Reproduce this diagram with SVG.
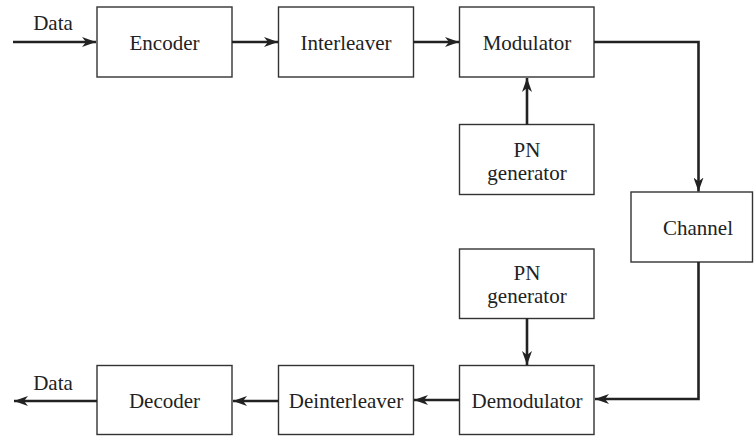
<svg xmlns="http://www.w3.org/2000/svg" width="754" height="436" viewBox="0 0 754 436">
<defs>
<marker id="ah" viewBox="0 0 14 10" refX="14" refY="5" markerWidth="14" markerHeight="10" markerUnits="userSpaceOnUse" orient="auto">
<path d="M0,0 L14,5 L0,10 L4,5 Z" fill="#222"/>
</marker>
</defs>
<style>
.box{fill:#fff;stroke:#333;stroke-width:1.4}
.t{font-family:"Liberation Serif","Times New Roman",serif;font-size:21px;fill:#222;text-anchor:middle}
.c{fill:none;stroke:#222;stroke-width:2.6;marker-end:url(#ah)}
</style>
<rect width="754" height="436" fill="#fff"/>
<g id="encoder"><rect class="box" x="97" y="7" width="135" height="70"/><text class="t" x="164.5" y="50">Encoder</text></g>
<g id="interleaver"><rect class="box" x="278.5" y="7" width="135" height="70"/><text class="t" x="346" y="50">Interleaver</text></g>
<g id="modulator"><rect class="box" x="459.5" y="7" width="134.5" height="70"/><text class="t" x="527" y="50">Modulator</text></g>
<g id="pn1"><rect class="box" x="459.5" y="124.5" width="134.5" height="70"/><text class="t" x="527" y="157">PN</text><text class="t" x="527" y="180">generator</text></g>
<g id="channel"><rect class="box" x="631" y="192" width="121.5" height="70"/><text class="t" x="698" y="235">Channel</text></g>
<g id="pn2"><rect class="box" x="459.5" y="249" width="134.5" height="69.5"/><text class="t" x="527" y="280">PN</text><text class="t" x="527" y="303">generator</text></g>
<g id="demodulator"><rect class="box" x="459.5" y="365.5" width="134.5" height="69"/><text class="t" x="527" y="408">Demodulator</text></g>
<g id="deinterleaver"><rect class="box" x="278.5" y="365.5" width="135" height="69"/><text class="t" x="346" y="408">Deinterleaver</text></g>
<g id="decoder"><rect class="box" x="97" y="365.5" width="135" height="69"/><text class="t" x="164.5" y="408">Decoder</text></g>
<g id="labels"><text class="t" x="53" y="30">Data</text><text class="t" x="53" y="390">Data</text></g>
<g id="connectors">
<path class="c" d="M13,42 H96"/>
<path class="c" d="M232,42 H278"/>
<path class="c" d="M413.5,42 H459"/>
<path class="c" d="M527,124.5 V78"/>
<path class="c" d="M594,42 H698.5 V191.5"/>
<path class="c" d="M698.5,262 V399 H595"/>
<path class="c" d="M527,318.5 V365"/>
<path class="c" d="M459.5,400 H414"/>
<path class="c" d="M278.5,401 H233"/>
<path class="c" d="M97,401 H14"/>
</g>
</svg>
